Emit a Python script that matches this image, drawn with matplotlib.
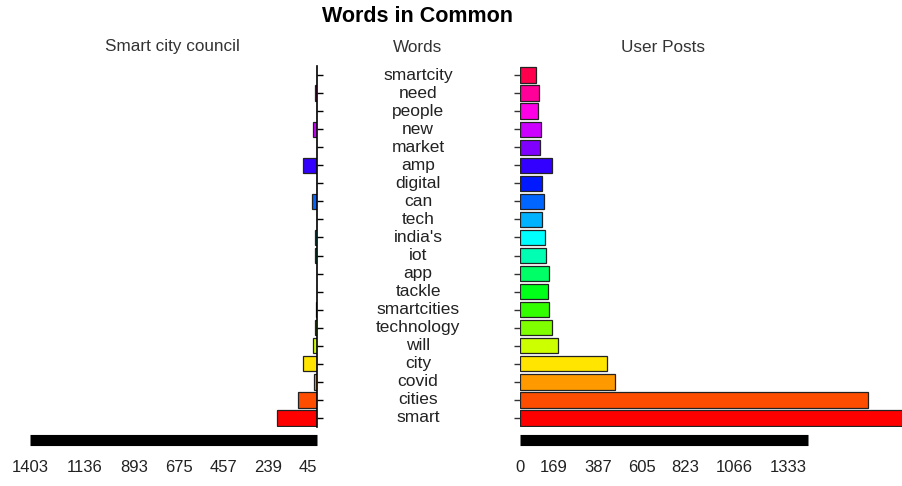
import colorsys
import matplotlib
matplotlib.use("Agg")
import matplotlib.pyplot as plt
import matplotlib.transforms as mtransforms

plt.rcParams['font.family'] = ['Liberation Sans', 'DejaVu Sans']

# Слова снизу вверх (smart внизу)
words = ['smart', 'cities', 'covid', 'city', 'will', 'technology', 'smartcities',
         'tackle', 'app', 'iot', "india's", 'tech', 'can', 'digital', 'amp',
         'market', 'new', 'people', 'need', 'smartcity']

# Частоты в постах совета
council = [195, 93, 15, 68, 20, 10, 3, 0, 0, 8, 8, 0, 24, 0, 68, 0, 20, 0, 10, 0]

# Частоты в постах пользователей
users = [2000, 1731, 473, 433, 189, 159, 144, 139, 144, 129, 124, 109, 119, 109,
         159, 100, 104, 90, 95, 80]

left_labels = [45, 239, 457, 675, 893, 1136, 1403]
right_labels = [0, 169, 387, 605, 823, 1066, 1333]
left_max = 1403
right_axis_end = 1433

# Цвета как rainbow(20) в R
colors = [colorsys.hsv_to_rgb(i / 20, 1, 1) for i in range(20)]

fig = plt.figure(figsize=(9.02, 4.86), dpi=100)
W, H = 902, 486

def box(x0, x1, ytop, ybot):
    return [x0 / W, (H - ybot) / H, (x1 - x0) / W, (ybot - ytop) / H]

axl = fig.add_axes(box(30, 317, 66, 427))
axr = fig.add_axes(box(520, 902, 66, 427))
ypos = list(range(len(words)))

axl.barh(ypos, council, height=0.85, color=colors, edgecolor='#222222', linewidth=0.9)
axr.barh(ypos, users, height=0.85, color=colors, edgecolor='#222222', linewidth=0.9)

axl.set_xlim(left_max, 0)
axr.set_xlim(0, 1900)
for ax in (axl, axr):
    ax.set_ylim(-0.5, 19.5)
    ax.spines['top'].set_visible(False)
    ax.spines['bottom'].set_position(('outward', 9.4))
    ax.spines['bottom'].set_linewidth(8)
    ax.spines['bottom'].set_color('black')
    ax.spines['bottom'].set_capstyle('butt')
    ax.tick_params(axis='x', length=0, pad=14, labelsize=12, labelcolor='#222222')
    ax.set_yticks(ypos)
    ax.set_yticklabels([])

axl.spines['left'].set_visible(False)
axl.spines['right'].set_linewidth(1.2)
axl.yaxis.tick_right()
axl.tick_params(axis='y', direction='out', length=4, width=1.0)
axl.spines['bottom'].set_bounds(0, left_max)
axl.set_xticks(left_labels)
axl.set_xticklabels([str(v) for v in left_labels])

axr.spines['left'].set_visible(False)
axr.spines['right'].set_visible(False)
axr.tick_params(axis='y', direction='out', length=4, width=1.0, color='#333333')
axr.spines['bottom'].set_bounds(0, right_axis_end)
axr.set_xticks(right_labels)
axr.set_xticklabels([str(v) for v in right_labels])

# Подписи слов по центру
trans = mtransforms.blended_transform_factory(fig.transFigure, axl.transData)
for y, w in zip(ypos, words):
    axl.text(418 / W, y, w, transform=trans, ha='center', va='center',
             fontsize=12.5, color='#222222', clip_on=False)

fig.text(172 / W, (H - 47) / H, 'Smart city council', ha='center', va='center',
         fontsize=12.3, color='#333333')
fig.text(418 / W, (H - 47) / H, 'Words', ha='center', va='center',
         fontsize=12.3, color='#333333')
fig.text(663 / W, (H - 47) / H, 'User Posts', ha='center', va='center',
         fontsize=12.3, color='#333333')
fig.text(418 / W, (H - 17) / H, 'Words in Common', ha='center', va='center',
         fontsize=15.5, fontweight='bold', color='black')

fig.savefig('out.png', dpi=100)
